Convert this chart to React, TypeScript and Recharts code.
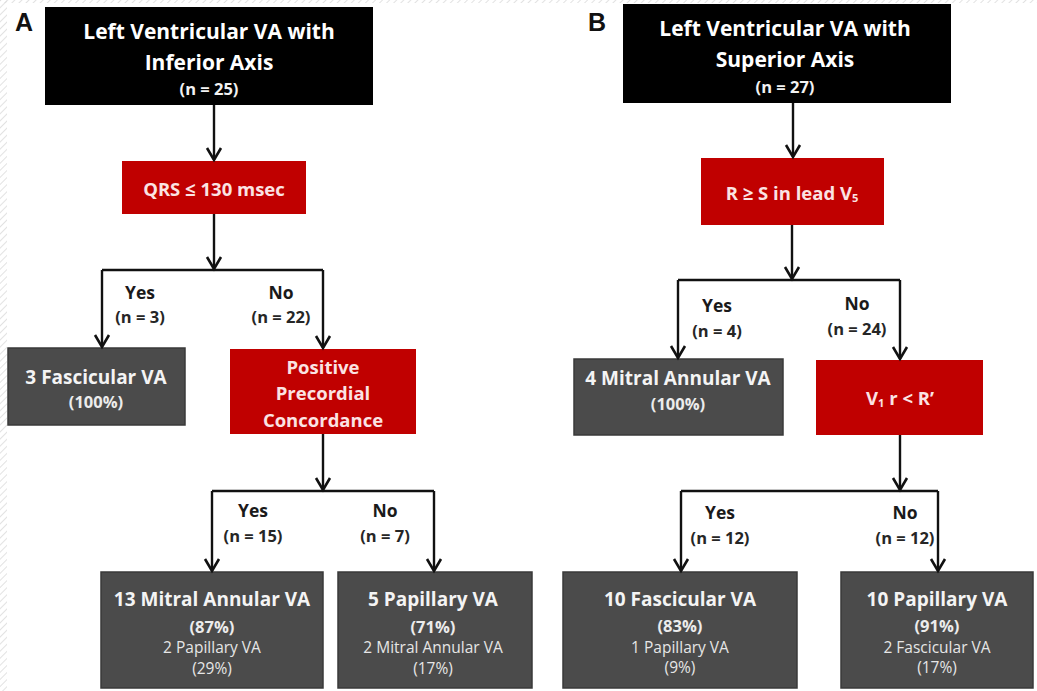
import React from "react";
import { ComposedChart, XAxis, YAxis, ReferenceArea, ReferenceLine, Scatter } from "recharts";

const W = 1037;
const H = 691;

// Boxes of the decision tree (diagram units = image pixels)
const boxes = [
  { id: "topA", x1: 45, x2: 373, y1: 7, y2: 105, kind: "root" },
  { id: "qrs", x1: 122, x2: 306, y1: 161, y2: 214, kind: "cond" },
  { id: "fascA", x1: 8, x2: 185, y1: 348, y2: 425, kind: "result" },
  { id: "ppc", x1: 230, x2: 416, y1: 349, y2: 434, kind: "cond" },
  { id: "mitralA", x1: 101, x2: 323, y1: 572, y2: 688, kind: "result" },
  { id: "papA", x1: 338, x2: 532, y1: 572, y2: 688, kind: "result" },
  { id: "topB", x1: 623, x2: 951, y1: 4, y2: 103, kind: "root" },
  { id: "rs", x1: 701, x2: 884, y1: 158, y2: 225, kind: "cond" },
  { id: "mitralB", x1: 574, x2: 783, y1: 359, y2: 435, kind: "result" },
  { id: "v1", x1: 816, x2: 983, y1: 360, y2: 435, kind: "cond" },
  { id: "fascB", x1: 563, x2: 797, y1: 572, y2: 688, kind: "result" },
  { id: "papB", x1: 841, x2: 1033, y1: 572, y2: 688, kind: "result" },
];

// Connector segments; arrow marks the end with an arrowhead
const segments = [
  { x1: 214, y1: 105, x2: 214, y2: 160, arrow: true },
  { x1: 214, y1: 214, x2: 214, y2: 269, arrow: true },
  { x1: 102, y1: 270, x2: 323, y2: 270, arrow: false },
  { x1: 102, y1: 270, x2: 102, y2: 347, arrow: true },
  { x1: 323, y1: 270, x2: 323, y2: 348, arrow: true },
  { x1: 323, y1: 434, x2: 323, y2: 490, arrow: true },
  { x1: 212, y1: 491, x2: 434, y2: 491, arrow: false },
  { x1: 212, y1: 491, x2: 212, y2: 571, arrow: true },
  { x1: 434, y1: 491, x2: 434, y2: 571, arrow: true },
  { x1: 793, y1: 103, x2: 793, y2: 157, arrow: true },
  { x1: 792, y1: 225, x2: 792, y2: 279, arrow: true },
  { x1: 678, y1: 280, x2: 900, y2: 280, arrow: false },
  { x1: 678, y1: 280, x2: 678, y2: 358, arrow: true },
  { x1: 900, y1: 280, x2: 900, y2: 359, arrow: true },
  { x1: 900, y1: 435, x2: 900, y2: 490, arrow: true },
  { x1: 681, y1: 491, x2: 938, y2: 491, arrow: false },
  { x1: 681, y1: 491, x2: 681, y2: 571, arrow: true },
  { x1: 938, y1: 491, x2: 938, y2: 571, arrow: true },
];

const arrowHeads = segments.filter((s) => s.arrow).map((s) => ({ x: s.x2, y: s.y2 }));

type Part = { t: string; sub?: boolean };
type TextItem = { x: number; y: number; role: string; parts: Part[] };

const T = (x: number, y: number, role: string, text: string): TextItem => ({ x, y, role, parts: [{ t: text }] });

const labels: TextItem[] = [
  T(24, 22, "panel", "A"),
  T(209, 31, "title", "Left Ventricular VA with"),
  T(209, 62, "title", "Inferior Axis"),
  T(209, 88, "titleN", "(n = 25)"),
  T(214, 188, "cond", "QRS ≤ 130 msec"),
  T(140, 292, "branch", "Yes"),
  T(140, 316, "branchN", "(n = 3)"),
  T(281, 292, "branch", "No"),
  T(281, 316, "branchN", "(n = 22)"),
  T(96, 377, "result", "3 Fascicular VA"),
  T(96, 401, "resultPct", "(100%)"),
  T(323, 366, "cond", "Positive"),
  T(323, 392, "cond", "Precordial"),
  T(323, 419, "cond", "Concordance"),
  T(253, 510, "branch", "Yes"),
  T(253, 535, "branchN", "(n = 15)"),
  T(385, 510, "branch", "No"),
  T(385, 535, "branchN", "(n = 7)"),
  T(212, 599, "result", "13 Mitral  Annular VA"),
  T(212, 626, "resultPct", "(87%)"),
  T(212, 647, "minor", "2 Papillary VA"),
  T(212, 668, "minor", "(29%)"),
  T(433, 599, "result", "5 Papillary  VA"),
  T(433, 626, "resultPct", "(71%)"),
  T(433, 647, "minor", "2 Mitral Annular VA"),
  T(433, 668, "minor", "(17%)"),
  T(597, 22, "panel", "B"),
  T(785, 28, "title", "Left Ventricular VA with"),
  T(785, 59, "title", "Superior Axis"),
  T(785, 86, "titleN", "(n = 27)"),
  { x: 792, y: 192, role: "cond", parts: [{ t: "R ≥ S in lead V" }, { t: "5", sub: true }] },
  T(717, 305, "branch", "Yes"),
  T(717, 330, "branchN", "(n = 4)"),
  T(857, 303, "branch", "No"),
  T(857, 328, "branchN", "(n = 24)"),
  T(678, 378, "result", "4 Mitral  Annular VA"),
  T(678, 403, "resultPct", "(100%)"),
  { x: 900, y: 397, role: "cond", parts: [{ t: "V" }, { t: "1", sub: true }, { t: " r < R’" }] },
  T(720, 512, "branch", "Yes"),
  T(720, 537, "branchN", "(n = 12)"),
  T(905, 512, "branch", "No"),
  T(905, 537, "branchN", "(n = 12)"),
  T(680, 599, "result", "10 Fascicular  VA"),
  T(680, 625, "resultPct", "(83%)"),
  T(680, 647, "minor", "1 Papillary VA"),
  T(680, 667, "minor", "(9%)"),
  T(937, 599, "result", "10 Papillary  VA"),
  T(937, 625, "resultPct", "(91%)"),
  T(937, 647, "minor", "2 Fascicular VA"),
  T(937, 667, "minor", "(17%)"),
];

const boxFill: Record<string, string> = { root: "#000000", cond: "#c00000", result: "#4b4b4b" };

const textStyle: Record<string, { size: number; weight: number; color: string; family?: string }> = {
  panel: { size: 25, weight: 700, color: "#111", family: "Liberation Sans, Arial, sans-serif" },
  title: { size: 21, weight: 700, color: "#ffffff" },
  titleN: { size: 16.5, weight: 700, color: "#f2f2f2" },
  cond: { size: 18.5, weight: 700, color: "#fbe3e3" },
  branch: { size: 17.5, weight: 700, color: "#1a1a1a" },
  branchN: { size: 16.5, weight: 700, color: "#262626" },
  result: { size: 19, weight: 700, color: "#f4f4f4" },
  resultPct: { size: 16.5, weight: 700, color: "#ececec" },
  minor: { size: 15.5, weight: 400, color: "#e6e6e6" },
};

const TextShape = (props: any) => {
  const { cx, cy, payload } = props;
  const st = textStyle[payload.role];
  return (
    <text
      x={cx}
      y={cy}
      textAnchor="middle"
      dominantBaseline="central"
      fontFamily={st.family || "'Open Sans', Lato, sans-serif"}
      fontSize={st.size}
      fontWeight={st.weight}
      fill={st.color}
    >
      {payload.parts.map((p: Part, i: number) =>
        p.sub ? (
          <tspan key={i} fontSize={st.size * 0.6} dy={5}>
            {p.t}
          </tspan>
        ) : (
          <tspan key={i} dy={i > 0 && payload.parts[i - 1].sub ? -5 : 0}>
            {p.t}
          </tspan>
        )
      )}
    </text>
  );
};

const ArrowShape = (props: any) => {
  const { cx, cy } = props;
  return (
    <path
      d={`M ${cx - 7} ${cy - 12} L ${cx} ${cy} L ${cx + 7} ${cy - 12}`}
      fill="none"
      stroke="#111"
      strokeWidth={2.6}
      strokeLinejoin="miter"
    />
  );
};

export default function App() {
  return (
    <div style={{ position: "absolute", left: 0, top: 0, width: W, height: H, background: "#fff" }}>
      <ComposedChart width={W} height={H} margin={{ top: 0, right: 0, bottom: 0, left: 0 }}>
        <defs>
          <pattern id="hatch" width="5" height="5" patternUnits="userSpaceOnUse" patternTransform="rotate(45)">
            <line x1="0" y1="0" x2="0" y2="5" stroke="#d8d8d8" strokeWidth="1.5" />
          </pattern>
        </defs>
        <XAxis type="number" dataKey="x" domain={[0, W]} hide allowDataOverflow />
        <YAxis type="number" dataKey="y" domain={[0, H]} reversed hide allowDataOverflow />
        <ReferenceArea x1={0} x2={7} y1={0} y2={H} fill="url(#hatch)" fillOpacity={1} stroke="none" ifOverflow="visible" />
        <ReferenceArea x1={0} x2={W} y1={0} y2={3} fill="url(#hatch)" fillOpacity={1} stroke="none" ifOverflow="visible" />
        {boxes.map((b) => (
          <ReferenceArea
            key={b.id}
            x1={b.x1}
            x2={b.x2}
            y1={b.y1}
            y2={b.y2}
            fill={boxFill[b.kind]}
            fillOpacity={1}
            stroke={b.kind === "result" ? "#3a3a3a" : "none"}
            strokeWidth={1.5}
            ifOverflow="visible"
          />
        ))}
        {segments.map((s, i) => (
          <ReferenceLine
            key={i}
            segment={[
              { x: s.x1, y: s.y1 },
              { x: s.x2, y: s.y2 },
            ]}
            stroke="#111"
            strokeWidth={2.4}
            ifOverflow="visible"
          />
        ))}
        <Scatter data={arrowHeads} dataKey="y" shape={ArrowShape} isAnimationActive={false} />
        <Scatter data={labels} dataKey="y" shape={TextShape} isAnimationActive={false} />
      </ComposedChart>
    </div>
  );
}
